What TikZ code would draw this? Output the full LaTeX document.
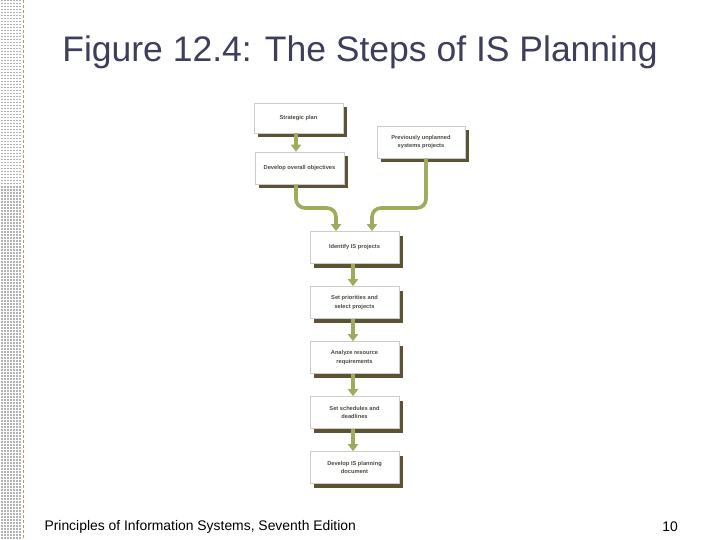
\documentclass[tikz,border=0pt]{standalone}
\usepackage{fontspec}
\setmainfont{Liberation Sans}
\usetikzlibrary{arrows.meta,shadows}
\definecolor{titleblue}{RGB}{62,62,92}
\definecolor{shadowbrown}{RGB}{92,82,52}
\definecolor{flowgreen}{RGB}{158,170,92}
\definecolor{boxtext}{RGB}{75,75,65}

\begin{document}
\begin{tikzpicture}[x=1pt, y=-1pt,
	stepbox/.style={draw=black!20, fill=white, line width=0.6pt, minimum width=89pt, minimum height=32pt,
		align=center, inner sep=1pt, text=boxtext, font=\fontsize{5.7}{8.8}\selectfont\bfseries,
		drop shadow={shadow xshift=4pt, shadow yshift=-4pt, fill=shadowbrown, opacity=1}},
	flow/.style={draw=flowgreen, line width=3.6pt, -{Triangle[width=10pt,length=7pt]}}]
	\useasboundingbox (0,0) rectangle (720,540);
	% dotted strip on the left
	\foreach \x in {2,5,8,11,14,17,20}
		\draw[black!30, line width=1.6pt, dash pattern=on 1.5pt off 1.5pt] (\x,0) -- (\x,540);
	\draw[orange!60!black!60, line width=0.8pt, dash pattern=on 3pt off 2pt] (23,0) -- (23,540);
	% title
	\node[titleblue, font=\fontsize{35.5}{40}\selectfont] (title) at (360,52) {Figure 12.4: The Steps of IS Planning};
	% boxes
	\node[stepbox, minimum height=30pt] (strat) at (298.5,118) {Strategic plan};
	\node[stepbox, minimum width=88pt] (prev) at (421,142) {Previously unplanned\\systems projects};
	\node[stepbox] (obj) at (299.5,168) {Develop overall objectives};
	\node[stepbox] (ident) at (354.5,247.5) {Identify IS projects};
	\node[stepbox] (prior) at (354.5,302.5) {Set priorities and\\select projects};
	\node[stepbox] (analyze) at (354.5,357.5) {Analyze resource\\requirements};
	\node[stepbox] (sched) at (354.5,412.5) {Set schedules and\\deadlines};
	\node[stepbox] (doc) at (354.5,467.5) {Develop IS planning\\document};
	% connectors
	\draw[flow] ([xshift=-2.5pt]strat.south) -- ([xshift=-3.5pt]obj.north);
	\draw[flow, rounded corners=9pt] ([xshift=-3.5pt]obj.south) |- (318,208) -| ([xshift=-18.5pt]ident.north);
	\draw[flow, rounded corners=9pt] ([xshift=5pt]prev.south) |- (390,208) -| ([xshift=17.5pt]ident.north);
	\draw[flow] ([xshift=-1.5pt]ident.south) -- ([xshift=-1.5pt]prior.north);
	\draw[flow] ([xshift=-1.5pt]prior.south) -- ([xshift=-1.5pt]analyze.north);
	\draw[flow] ([xshift=-1.5pt]analyze.south) -- ([xshift=-1.5pt]sched.north);
	\draw[flow] ([xshift=-1.5pt]sched.south) -- ([xshift=-1.5pt]doc.north);
	% footer
	\node[anchor=west, font=\fontsize{13.9}{16}\selectfont] (book) at (41,527) {Principles of Information Systems, Seventh Edition};
	\node[font=\fontsize{13.9}{16}\selectfont] (page) at (670,527) {10};
\end{tikzpicture}
\end{document}
